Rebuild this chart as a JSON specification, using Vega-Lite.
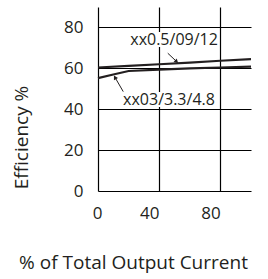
{
  "$schema": "https://vega.github.io/schema/vega-lite/v6.json",
  "width": 153,
  "height": 184,
  "autosize": "none",
  "padding": {"left": 98, "top": 7, "right": 17, "bottom": 88},
  "background": "white",
  "config": {
    "view": {"stroke": null},
    "font": "Open Sans",
    "axis": {
      "labelFont": "Open Sans", "titleFont": "Open Sans",
      "labelFontSize": 17, "titleFontSize": 19, "titleFontWeight": "normal",
      "labelColor": "#231f20", "titleColor": "#231f20",
      "gridColor": "#000000", "gridOpacity": 1, "gridWidth": 1.2,
      "ticks": false, "domain": false, "labelOverlap": false, "labelFlush": false, "labelBound": false
    },
    "axisX": {"labelFlush": false, "labelOverlap": false},
    "axisQuantitative": {"labelFlush": false, "labelOverlap": false}
  },
  "datasets": {
    "curves": [
      {"current": 0, "eff": 60.4, "model": "xx0.5/09/12"},
      {"current": 20, "eff": 61.2, "model": "xx0.5/09/12"},
      {"current": 40, "eff": 62.0, "model": "xx0.5/09/12"},
      {"current": 60, "eff": 62.8, "model": "xx0.5/09/12"},
      {"current": 80, "eff": 63.7, "model": "xx0.5/09/12"},
      {"current": 100, "eff": 64.5, "model": "xx0.5/09/12"},
      {"current": 0, "eff": 55.2, "model": "xx03/3.3/4.8"},
      {"current": 10, "eff": 57.0, "model": "xx03/3.3/4.8"},
      {"current": 20, "eff": 58.7, "model": "xx03/3.3/4.8"},
      {"current": 40, "eff": 59.4, "model": "xx03/3.3/4.8"},
      {"current": 60, "eff": 60.0, "model": "xx03/3.3/4.8"},
      {"current": 80, "eff": 60.4, "model": "xx03/3.3/4.8"},
      {"current": 100, "eff": 60.8, "model": "xx03/3.3/4.8"}
    ],
    "labels": [
      {"label": "xx0.5/09/12", "x1": 21, "x2": 78.5, "y1": 70.4, "y2": 77.8, "xc": 49.7, "yc": 74.1, "ax": 45.6, "ay": 67.4, "hx": 51.4, "hy": 63.3},
      {"label": "xx03/3.3/4.8", "x1": 16.3, "x2": 76.5, "y1": 41.1, "y2": 48.4, "xc": 46.4, "yc": 44.7, "ax": 16.5, "ay": 48.6, "hx": 11.1, "hy": 55.6}
    ]
  },
  "layer": [
    {
      "data": {"name": "curves"},
      "mark": {"type": "line", "color": "#231f20", "strokeWidth": 2.2},
      "encoding": {
        "x": {"field": "current", "type": "quantitative",
              "scale": {"domain": [0, 100], "nice": false},
              "axis": {"values": [0, 20, 40, 60, 80, 100], "grid": true, "labelPadding": 14,
                       "labelOverlap": false, "labelFlush": false,
                       "labelOffset": {"expr": "datum.value == 0 ? -1 : datum.value == 20 ? -9 : datum.value == 100 ? -2 : -10"},
                       "title": "% of Total Output Current", "titleX": 35, "titleY": 71,
                       "titleBaseline": "middle", "titleAlign": "center"}},
        "y": {"field": "eff", "type": "quantitative",
              "scale": {"domain": [0, 90], "nice": false},
              "axis": {"values": [0, 10, 20, 30, 40, 50, 60, 70, 80, 90], "grid": true, "labelPadding": 15,
                       "labelOverlap": false,
                       "labelExpr": "datum.value % 20 == 0 && datum.value <= 80 ? datum.label : ''",
                       "title": "Efficiency %", "titleX": -77, "titleY": 130, "titleAngle": -90,
                       "titleBaseline": "middle", "titleAlign": "center"}},
        "detail": {"field": "model"}
      }
    },
    {
      "data": {"name": "labels"},
      "mark": {"type": "rect", "color": "white"},
      "encoding": {
        "x": {"field": "x1", "type": "quantitative"},
        "x2": {"field": "x2"},
        "y": {"field": "y1", "type": "quantitative"},
        "y2": {"field": "y2"}
      }
    },
    {
      "data": {"name": "labels"},
      "mark": {"type": "text", "font": "Open Sans", "fontSize": 16, "color": "#231f20", "baseline": "middle", "align": "center"},
      "encoding": {
        "x": {"field": "xc", "type": "quantitative"},
        "y": {"field": "yc", "type": "quantitative"},
        "text": {"field": "label"}
      }
    },
    {
      "data": {"name": "labels"},
      "mark": {"type": "rule", "color": "#231f20", "strokeWidth": 1},
      "encoding": {
        "x": {"field": "ax", "type": "quantitative"},
        "x2": {"field": "hx"},
        "y": {"field": "ay", "type": "quantitative"},
        "y2": {"field": "hy"}
      }
    },
    {
      "data": {"name": "labels"},
      "transform": [{"filter": "datum.label == 'xx0.5/09/12'"}],
      "mark": {"type": "point", "shape": "triangle-up", "filled": true, "color": "#231f20", "size": 22, "angle": 133, "opacity": 1},
      "encoding": {
        "x": {"field": "hx", "type": "quantitative"},
        "y": {"field": "hy", "type": "quantitative"}
      }
    },
    {
      "data": {"name": "labels"},
      "transform": [{"filter": "datum.label == 'xx03/3.3/4.8'"}],
      "mark": {"type": "point", "shape": "triangle-up", "filled": true, "color": "#231f20", "size": 22, "angle": 330, "opacity": 1},
      "encoding": {
        "x": {"field": "hx", "type": "quantitative"},
        "y": {"field": "hy", "type": "quantitative"}
      }
    }
  ]
}
